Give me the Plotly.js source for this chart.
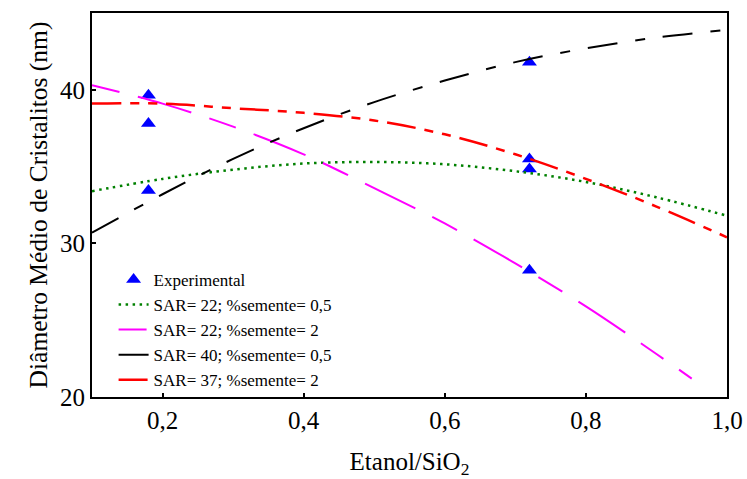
<!DOCTYPE html>
<html>
<head>
<meta charset="utf-8">
<script src="https://cdn.plot.ly/plotly-3.0.1.min.js"></script>
<style>
  html, body { margin: 0; padding: 0; background: #fff; }
  #chart { width: 747px; height: 479px; }
</style>
</head>
<body>
<div id="chart"></div>
<script>
// Experimental crystallite sizes
const expX = [0.18, 0.18, 0.18, 0.72, 0.72, 0.72, 0.72];
const expY = [39.65, 37.8, 33.45, 41.8, 35.5, 34.85, 28.25];

// Model curves (ethanol/SiO2 ratio vs. mean crystallite diameter)
const curveX = [0.1, 0.2, 0.3, 0.4, 0.5, 0.6, 0.7, 0.8, 0.9, 1.0];
const sar22s05 = [33.4, 34.2, 34.8, 35.2, 35.3, 35.15, 34.7, 34.0, 33.0, 31.8];
const sar40s05 = [30.7, 33.2, 35.5, 37.5, 39.2, 40.6, 41.8, 42.7, 43.4, 43.9];
const sar37s2 = [39.1, 39.1, 38.8, 38.5, 38.0, 37.1, 35.8, 34.2, 32.4, 30.4];

const sar22s2X = [0.1, 0.2, 0.3, 0.4, 0.5, 0.6, 0.7, 0.8, 0.9, 0.95];
const sar22s2 = [40.3, 39.1, 37.6, 35.8, 33.6, 31.3, 28.7, 25.9, 22.8, 21.2];

const names = [
  'Experimental',
  'SAR= 22; %semente= 0,5',
  'SAR= 22; %semente= 2',
  'SAR= 40; %semente= 0,5',
  'SAR= 37; %semente= 2'
];

const serif = 'Times New Roman, Times, Liberation Serif, DejaVu Serif, serif';

const traces = [
  {
    x: expX, y: expY, name: names[0], mode: 'markers', type: 'scatter',
    marker: { symbol: 'triangle-up', size: 13, color: '#0000ff' }
  },
  {
    x: curveX, y: sar22s05, name: names[1], mode: 'lines', type: 'scatter',
    line: { color: '#008000', width: 2.5, dash: '2.5px,4.5px', shape: 'spline' }
  },
  {
    x: sar22s2X, y: sar22s2, name: names[2], mode: 'lines', type: 'scatter',
    line: { color: '#ff00ff', width: 2, dash: '28px,19px,56px,19px', shape: 'spline' }
  },
  {
    x: curveX, y: sar40s05, name: names[3], mode: 'lines', type: 'scatter',
    line: { color: '#000000', width: 2, dash: '30px,18px,10px,18px', shape: 'spline' }
  },
  {
    x: curveX, y: sar37s2, name: names[4], mode: 'lines', type: 'scatter',
    line: { color: '#ff0000', width: 2.5, dash: '29px,9px,9px,9px,9px,9px', shape: 'spline' }
  }
];

const layout = {
  width: 747, height: 479,
  margin: { l: 92, r: 20, t: 13, b: 82 },
  paper_bgcolor: '#ffffff',
  plot_bgcolor: '#ffffff',
  separators: ',.',
  font: { family: serif, color: '#000000', size: 24 },
  showlegend: true,
  legend: {
    x: 0.034, y: 0.352, xanchor: 'left', yanchor: 'top',
    bgcolor: 'rgba(0,0,0,0)', borderwidth: 0,
    font: { family: serif, size: 17, color: '#000000' },
    tracegroupgap: 0
  },
  xaxis: {
    range: [0.1, 1.0],
    tickvals: [0.2, 0.4, 0.6, 0.8, 1.0],
    tickformat: '.1f',
    ticks: 'inside', ticklen: 4, tickwidth: 2, tickcolor: '#000',
    showline: true, linecolor: '#000', linewidth: 2, mirror: true,
    showgrid: false, zeroline: false,
    tickfont: { family: serif, size: 25 },
    title: { text: 'Etanol/SiO<sub>2</sub>', font: { family: serif, size: 25 }, standoff: 24 }
  },
  yaxis: {
    range: [20, 45],
    tickvals: [20, 30, 40],
    ticks: 'inside', ticklen: 4, tickwidth: 2, tickcolor: '#000',
    showline: true, linecolor: '#000', linewidth: 2, mirror: true,
    showgrid: false, zeroline: false,
    tickfont: { family: serif, size: 25 },
    title: { text: 'Diâmetro Médio de Cristalitos (nm)', font: { family: serif, size: 25.5 }, standoff: 5 }
  }
};

Plotly.newPlot('chart', traces, layout, { displayModeBar: false, staticPlot: true });
</script>
</body>
</html>
